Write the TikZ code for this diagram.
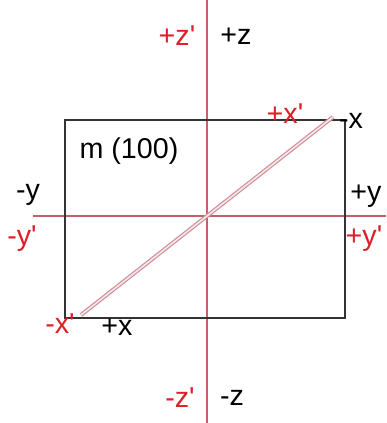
\documentclass[tikz,border=0pt]{standalone}
\usepackage{fontspec}
\setmainfont{Liberation Sans}[Ligatures=TeXOff]
\usetikzlibrary{calc}
\definecolor{axisred}{RGB}{196,96,104}
\definecolor{labred}{RGB}{222,30,40}
\definecolor{diagpink}{RGB}{214,140,152}

\begin{document}
\begin{tikzpicture}[x=0.75pt,y=-0.75pt,
    lbl/.style={inner sep=0pt,font=\fontsize{21.5}{24}\selectfont},
    redlbl/.style={lbl,text=labred}]
  \useasboundingbox (0,0) rectangle (386,423);
  % rotated frame (red axes)
  \coordinate (ztop) at (207,0);
  \coordinate (zbot) at (207,423);
  \coordinate (yleft) at (33,216);
  \coordinate (yright) at (386,216);
  \draw[axisred,line width=1.4pt] (ztop) -- (zbot);
  \draw[axisred,line width=1.4pt] (yleft) -- (yright);
  % original frame box
  \draw[black!80,line width=0.9pt] (65,120) rectangle (345,318);
  % x' direction
  \coordinate (xpos) at (333,117);
  \coordinate (xneg) at (81,315);
  \draw[diagpink,double=white!85!gray,double distance=1.2pt,line width=0.9pt] (xneg) -- (xpos);
  % labels
  \node[redlbl] (zpr) at (177,36) {+z'};
  \node[lbl] (zp) at (236,36) {+z};
  \node[redlbl] (xpr) at (285,114) {+x'};
  \node[lbl] (xm) at (351,121) {-x};
  \node[lbl] (mlab) at (129,151) {m (100)};
  \node[lbl] (ym) at (28,195) {-y};
  \node[lbl] (yp) at (366,196) {+y};
  \node[redlbl] (ymr) at (22,239) {-y'};
  \node[redlbl] (ypr) at (364,239) {+y'};
  \node[redlbl] (xmr) at (60,324) {-x'};
  \node[lbl] (xp) at (117,327) {+x};
  \node[redlbl] (zmr) at (180,398) {-z'};
  \node[lbl] (zm) at (232,398) {-z};
\end{tikzpicture}
\end{document}
